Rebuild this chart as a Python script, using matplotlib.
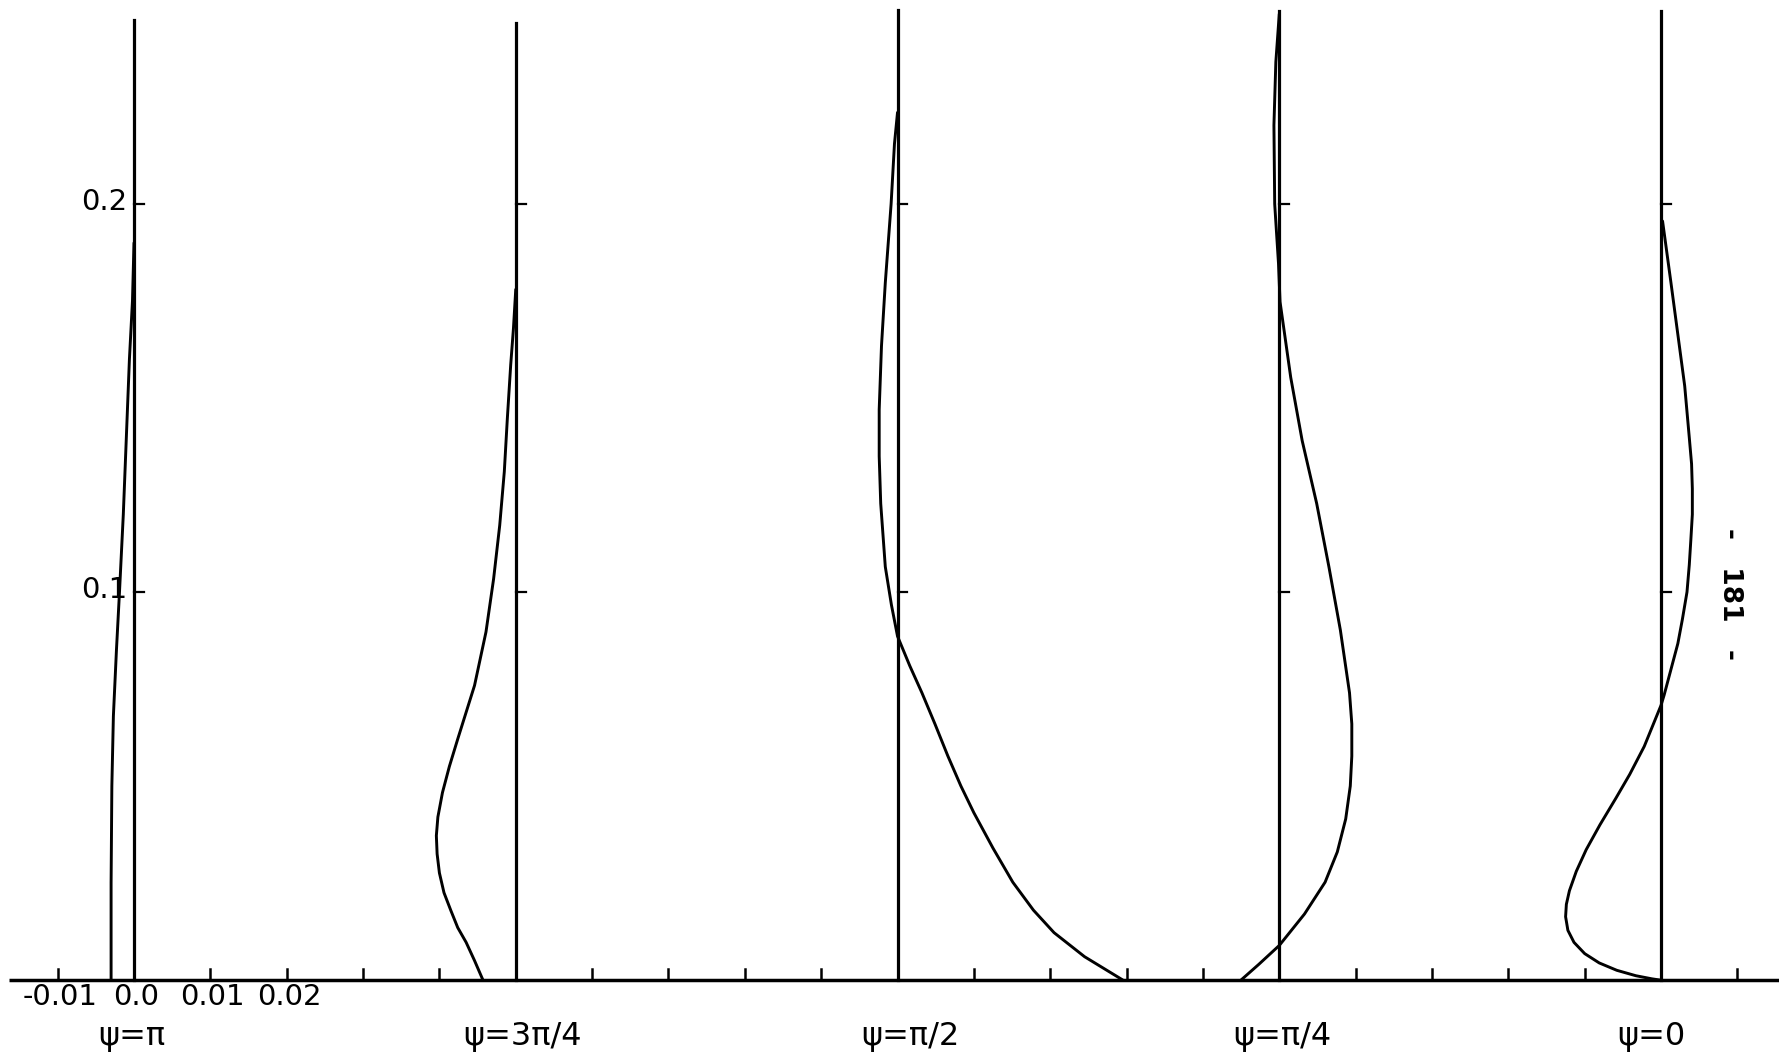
import matplotlib
matplotlib.use("Agg")
import matplotlib.pyplot as plt
import numpy as np

# panel labels and the offset of each zero line (0.05 per panel)
labels = ["ψ=π", "ψ=3π/4", "ψ=π/2", "ψ=π/4", "ψ=0"]
offsets = [0.0, 0.05, 0.10, 0.15, 0.20]
line_tops = [0.2473, 0.2466, 0.2500, 0.2497, 0.2497]

# profiles: height y, deviation u from the zero line
y_pi = [0.0, 0.025, 0.05, 0.068, 0.085, 0.1, 0.12, 0.14, 0.16, 0.175, 0.19]
u_pi = [-0.0030, -0.0030, -0.0029, -0.0027, -0.0023, -0.0019, -0.0014,
        -0.0010, -0.0006, -0.0002, 0.0]

y_3pi4 = [0.0, 0.005, 0.0097, 0.0135, 0.0179, 0.0225, 0.0276, 0.0325,
          0.0372, 0.042, 0.0483, 0.055, 0.0621, 0.0759, 0.0897, 0.1034,
          0.1172, 0.131, 0.1448, 0.1586, 0.168, 0.178]
u_3pi4 = [-0.0043, -0.0054, -0.0065, -0.0076, -0.0085, -0.0094, -0.0100,
          -0.0103, -0.0104, -0.0102, -0.0096, -0.0087, -0.0076, -0.0054,
          -0.0039, -0.0029, -0.0021, -0.0015, -0.0011, -0.00066, -0.0003,
          0.0]

y_pi2 = [0.0, 0.006, 0.0122, 0.018, 0.0252, 0.034, 0.0431, 0.05, 0.0577,
         0.066, 0.074, 0.081, 0.0886, 0.0967, 0.1065, 0.1228, 0.135, 0.147,
         0.1634, 0.1797, 0.2, 0.2155, 0.2236]
u_pi2 = [0.0295, 0.0245, 0.0205, 0.0178, 0.0151, 0.0125, 0.0100, 0.0083,
         0.0066, 0.0049, 0.0032, 0.0016, 0.0, -0.0008, -0.0016, -0.0022,
         -0.0024, -0.0024, -0.0021, -0.0016, -0.00084, -0.0004, 0.0]

y_pi4 = [0.0, 0.004, 0.0089, 0.017, 0.0252, 0.033, 0.0415, 0.05, 0.0577,
         0.066, 0.074, 0.0902, 0.1065, 0.1228, 0.139, 0.1553, 0.1748,
         0.1846, 0.2, 0.2203, 0.2366, 0.249]
u_pi4 = [-0.0050, -0.0027, 0.0, 0.0033, 0.0060, 0.0076, 0.0087, 0.0093,
         0.0095, 0.0095, 0.0092, 0.0080, 0.0065, 0.0049, 0.0030, 0.0015,
         0.0001, -0.0001, -0.0006, -0.0007, -0.00045, 0.0]

y_0 = [0.0, 0.0003, 0.0011, 0.0025, 0.0044, 0.0068, 0.0097, 0.0128, 0.0163,
       0.0195, 0.023, 0.028, 0.0336, 0.040, 0.0469, 0.053, 0.0602, 0.0708,
       0.0734, 0.0867, 0.093, 0.1, 0.107, 0.1133, 0.12, 0.1266, 0.133,
       0.1398, 0.1531, 0.1664, 0.1797, 0.1956]
u_0 = [-0.0002, -0.0012, -0.0033, -0.0058, -0.0081, -0.0100, -0.0114,
       -0.0122, -0.0125, -0.0124, -0.0120, -0.0111, -0.0098, -0.0080,
       -0.0059, -0.0041, -0.0022, 0.0, 0.0004, 0.0022, 0.0028, 0.0034,
       0.0037, 0.0039, 0.0041, 0.0041, 0.0040, 0.0037, 0.0031, 0.0022,
       0.0013, 0.0002]

profiles = [(y_pi, u_pi), (y_3pi4, u_3pi4), (y_pi2, u_pi2),
            (y_pi4, u_pi4), (y_0, u_0)]

xticks = [-0.01] + [k / 100 for k in range(1, 22) if k % 5 != 0]
xtick_labels = {-0.01: "-0.01", 0.0: "0.0", 0.01: "0.01", 0.02: "0.02"}
yticks = [0.1, 0.2]

fig = plt.figure(figsize=(17.79, 10.61), dpi=100)
ax = fig.add_axes([0, 0, 1, 1])
ax.set_xlim(-0.01755, 0.21545)
ax.set_ylim(-0.02088, 0.25258)
ax.set_axis_off()

# baseline
ax.plot([-0.0164, 0.2155], [0, 0], color="black", lw=2.5, solid_capstyle="butt")
for t in xticks:
    ax.plot([t, t], [0, 0.0028], color="black", lw=1.8)

for off, top, (yy, uu) in zip(offsets, line_tops, profiles):
    ax.plot([off, off], [0, top], color="black", lw=2.3)
    for yt in yticks:
        ax.plot([off, off + 0.0013], [yt, yt], color="black", lw=1.6)
    ax.plot(off + np.array(uu), yy, color="black", lw=2.1,
            solid_joinstyle="round", solid_capstyle="round")

for yt in yticks:
    ax.text(-0.0009, yt + 0.0005, f"{yt:.1f}", ha="right", va="center",
            fontsize=21, family="DejaVu Sans")

for t, s in xtick_labels.items():
    ax.text(t + 0.0003, -0.0045, s, ha="center", va="center",
            fontsize=21, family="DejaVu Sans")

nudges = [-0.0003, 0.0009, 0.0017, 0.0004, -0.0013]
for off, nd, s in zip(offsets, nudges, labels):
    ax.text(off + nd, -0.0146, s, ha="center", va="center",
            fontsize=23, family="DejaVu Sans")

ax.text(0.2090, 0.0995, "-   181   -", ha="center", va="center",
        rotation=-90, fontsize=19, fontweight="bold", family="DejaVu Sans")

fig.savefig("out.png", dpi=100, facecolor="white")
